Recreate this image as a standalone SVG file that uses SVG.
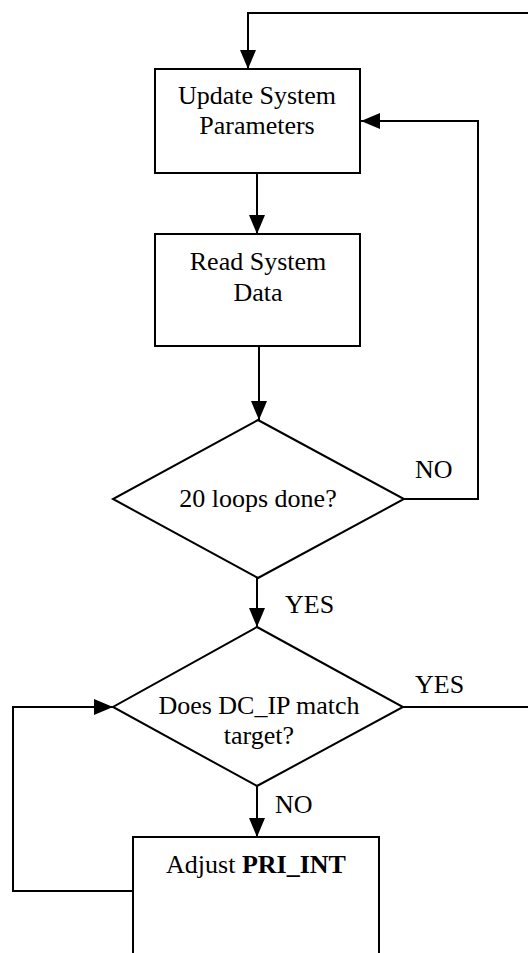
<svg xmlns="http://www.w3.org/2000/svg" width="528" height="953" viewBox="0 0 528 953">
<style>
.shape{fill:#fff;stroke:#000;stroke-width:2}
.line{fill:none;stroke:#000;stroke-width:2}
text{font-family:"Liberation Serif","Times New Roman",serif;font-size:26px;fill:#000}
.c{text-anchor:middle}
</style>
<defs>
<marker id="arr" markerUnits="userSpaceOnUse" markerWidth="19" markerHeight="16" refX="19" refY="8" orient="auto">
<path d="M0,0 L19,8 L0,16 z" fill="#000"/>
</marker>
</defs>
<rect width="528" height="953" fill="#fff"/>
<g id="connectors">
<path class="line" d="M528,13 H248 V69" marker-end="url(#arr)"/>
<path class="line" d="M257,173 V234" marker-end="url(#arr)"/>
<path class="line" d="M259,346 V420" marker-end="url(#arr)"/>
<path class="line" d="M404,499 H478 V121 H361" marker-end="url(#arr)"/>
<path class="line" d="M257,578 V627" marker-end="url(#arr)"/>
<path class="line" d="M403,707 H528"/>
<path class="line" d="M257,786 V837" marker-end="url(#arr)"/>
<path class="line" d="M133,891 H13 V707 H113" marker-end="url(#arr)"/>
<text x="415" y="478">NO</text>
<text x="285" y="613">YES</text>
<text x="415" y="693">YES</text>
<text x="275" y="813">NO</text>
</g>
<g id="update">
<rect class="shape" x="155" y="69" width="205" height="104"/>
<text class="c" x="257" y="104">Update System</text>
<text class="c" x="257" y="134">Parameters</text>
</g>
<g id="read">
<rect class="shape" x="155" y="234" width="205" height="112"/>
<text class="c" x="258" y="270">Read System</text>
<text class="c" x="258" y="301">Data</text>
</g>
<g id="loops">
<polygon class="shape" points="258,420 404,499 258,578 113,499"/>
<text class="c" x="258" y="507">20 loops done?</text>
</g>
<g id="match">
<polygon class="shape" points="257,627 403,707 257,786 113,707"/>
<text class="c" x="259" y="714">Does DC_IP match</text>
<text class="c" x="259" y="744">target?</text>
</g>
<g id="adjust">
<rect class="shape" x="133" y="837" width="246" height="130"/>
<text class="c" x="256" y="873">Adjust <tspan font-weight="bold">PRI_INT</tspan></text>
</g>
</svg>
